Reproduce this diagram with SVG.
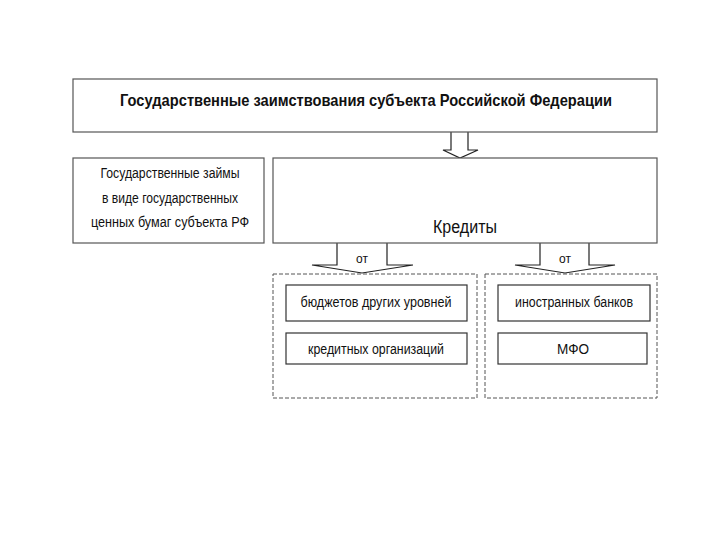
<svg xmlns="http://www.w3.org/2000/svg" width="720" height="540" viewBox="0 0 720 540">
<style>
.box{fill:#fff;stroke:#555;stroke-width:1.2}
.ibox{fill:#fff;stroke:#333;stroke-width:1.2}
.dash{fill:none;stroke:#555;stroke-width:1;stroke-dasharray:4,2}
.arr{fill:#fff;stroke:#222;stroke-width:1.2;stroke-linejoin:miter}
text{font-family:"Liberation Sans",Arial,sans-serif;fill:#111;text-anchor:middle}
.t{font-size:17px;font-weight:bold}
.m{font-size:14px}
.k{font-size:18px}
.s{font-size:12px}
</style>
<rect width="720" height="540" fill="#fff"/>
<g id="connectors">
<path class="arr" d="M451,132 V150 H443 L460,158 L478,150 H468 V132"/>
<path class="arr" d="M337,243 V265 H312 L362,273 L413,265 H387 V243"/>
<path class="arr" d="M540,243 V265 H515 L565,273 L615,265 H589 V243"/>
<text class="s" x="362" y="263">от</text>
<text class="s" x="565" y="263">от</text>
</g>
<g id="title">
<rect class="box" x="73" y="79" width="584" height="53"/>
<text class="t" x="366" y="106" textLength="492" lengthAdjust="spacingAndGlyphs">Государственные заимствования субъекта Российской Федерации</text>
</g>
<g id="bonds">
<rect class="box" x="73" y="158" width="191" height="85"/>
<text class="m" x="170" y="178" textLength="139" lengthAdjust="spacingAndGlyphs">Государственные займы</text>
<text class="m" x="170" y="203" textLength="136" lengthAdjust="spacingAndGlyphs">в виде государственных</text>
<text class="m" x="170" y="227" textLength="158" lengthAdjust="spacingAndGlyphs">ценных бумаг субъекта РФ</text>
</g>
<g id="credits">
<rect class="box" x="273" y="158" width="384" height="85"/>
<text class="k" x="465" y="233" textLength="64" lengthAdjust="spacingAndGlyphs">Кредиты</text>
</g>
<g id="group-left">
<rect class="dash" x="273" y="274" width="204" height="124"/>
</g>
<g id="group-right">
<rect class="dash" x="485" y="274" width="172" height="124"/>
</g>
<g id="budgets">
<rect class="ibox" x="286" y="285" width="181" height="36"/>
<text class="m" x="376" y="307" textLength="151" lengthAdjust="spacingAndGlyphs">бюджетов других уровней</text>
</g>
<g id="credit-orgs">
<rect class="ibox" x="286" y="333" width="181" height="31"/>
<text class="m" x="376" y="354" textLength="136" lengthAdjust="spacingAndGlyphs">кредитных организаций</text>
</g>
<g id="foreign-banks">
<rect class="ibox" x="498" y="285" width="152" height="36"/>
<text class="m" x="574" y="307" textLength="118" lengthAdjust="spacingAndGlyphs">иностранных банков</text>
</g>
<g id="mfo">
<rect class="ibox" x="498" y="333" width="149" height="31"/>
<text class="m" x="573" y="354" textLength="32" lengthAdjust="spacingAndGlyphs">МФО</text>
</g>
</svg>
